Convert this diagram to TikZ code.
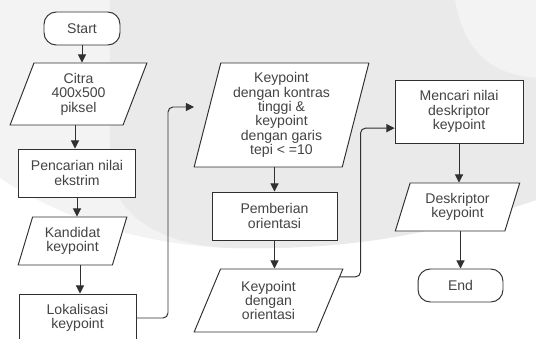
\documentclass[tikz,border=0pt]{standalone}
\usepackage{fontspec}
\setmainfont{Liberation Sans}
\usepackage{tikz}
\usetikzlibrary{shapes.geometric,arrows.meta,calc}
\definecolor{LineDark}{HTML}{303030}
\definecolor{TextGray}{HTML}{444444}
\definecolor{WashGray}{HTML}{EAEAEA}
\definecolor{WashLight}{HTML}{F3F3F3}
\tikzset{
  flowbase/.style={draw=LineDark,fill=white,line width=0.55pt,text=TextGray,
    align=center,font=\fontsize{8}{8.2}\selectfont,inner sep=0pt},
  terminal/.style 2 args={flowbase,rectangle,rounded corners=7pt,
    minimum width=#1,minimum height=#2},
  process/.style 2 args={flowbase,rectangle,minimum width=#1,minimum height=#2},
  iobox/.style n args={3}{flowbase,trapezium,trapezium left angle=#3,
    trapezium right angle={180-#3},trapezium stretches=true,
    minimum width=#1,minimum height=#2},
  arr/.style={draw=LineDark,line width=0.55pt,-{Triangle[length=4.6pt,width=4.6pt]}},
  elbow/.style={arr,rounded corners=0.1cm}}

\begin{document}
\begin{tikzpicture}[x=0.02cm,y=-0.02cm]
      \clip (0,0) rectangle (536,338);
      % faint background wash
      \fill[WashLight] (0,0) -- (536,0) -- (536,200)
        .. controls (420,240) and (330,250) .. (230,248)
        .. controls (120,244) and (40,205) .. (0,178) -- cycle;
      \fill[WashGray] (110,0) -- (455,0) .. controls (465,60) and (500,75) .. (536,78)
        -- (536,200) .. controls (420,240) and (330,250) .. (230,248)
        .. controls (160,245) and (115,215) .. (110,170) -- cycle;
      % column 1
      \node[terminal={1.52cm}{0.66cm}] (start) at (82,28.5) {Start};
      \node[iobox={2.74cm}{1.24cm}{71}] (citra) at (78.5,94) {Citra\\400x500\\piksel};
      \node[process={2.34cm}{0.96cm}] (ekstrim) at (77,173) {Pencarian nilai\\ekstrim};
      \node[iobox={2.18cm}{0.96cm}{70}] (kandidat) at (72.5,241) {Kandidat\\keypoint};
      \node[process={2.34cm}{0.96cm}] (lokal) at (77.5,318) {Lokalisasi\\keypoint};
      % column 2
      \node[iobox={3.50cm}{2.08cm}{76}] (kontras) at (281.5,115)
        {Keypoint\\dengan kontras\\tinggi \&\\keypoint\\dengan garis\\tepi < =10};
      \node[process={2.50cm}{0.96cm}] (orient) at (274.5,216) {Pemberian\\orientasi};
      \node[iobox={2.98cm}{1.26cm}{69}] (kpori) at (268.5,300.5) {Keypoint\\dengan\\orientasi};
      % column 3
      \node[process={2.56cm}{1.26cm}] (deskr) at (459,111.5) {Mencari nilai\\deskriptor\\keypoint};
      \node[iobox={2.50cm}{0.96cm}{70}] (deskout) at (457.5,207) {Deskriptor\\keypoint};
      \node[terminal={1.70cm}{0.66cm}] (end) at (460.5,285.5) {End};
      \coordinate (kpin) at (194,107);
      % straight arrows
      \draw[arr] (start) -- (start |- citra.north);
      \draw[arr] (citra.south -| 75,0) -- (ekstrim.north -| 75,0);
      \draw[arr] (ekstrim) -- (ekstrim |- kandidat.north);
      \draw[arr] (kandidat.south -| 80,0) -- (lokal.north -| 80,0);
      \draw[arr] (kontras.south -| orient) -- (orient.north);
      \draw[arr] (orient) -- (orient |- kpori.north);
      \draw[arr] (deskr) -- (deskr |- deskout.north);
      \draw[arr] (deskout.south -| end) -- (end.north);
      % elbow arrows
      \draw[elbow] (lokal.east) -| ([xshift=-0.52cm]kpin) -- (kpin);
      \draw[elbow] ($(kpori.top right corner)!0.13!(kpori.bottom right corner)$)
        -| ([xshift=-0.68cm]$(deskr.north west)!0.76!(deskr.south west)$)
        -- ($(deskr.north west)!0.76!(deskr.south west)$);
    \end{tikzpicture}
\end{document}
